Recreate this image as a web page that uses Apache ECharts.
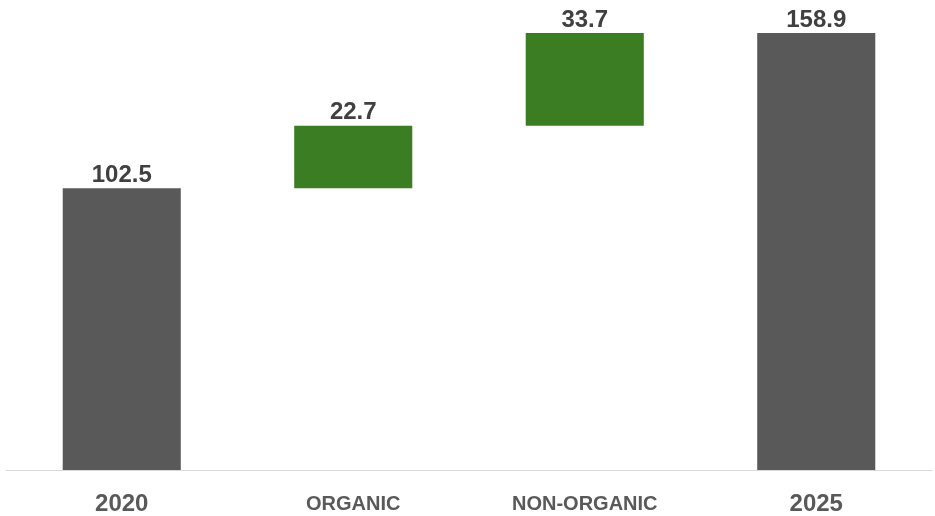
<!DOCTYPE html>
<html><head><meta charset="utf-8">
<script src="https://cdn.jsdelivr.net/npm/echarts@6/dist/echarts.min.js"></script>
<style>html,body{margin:0;padding:0;background:#fff}#c{width:935px;height:516px}</style>
</head><body><div id="c"></div>
<script>
const categories = ['2020', 'ORGANIC', 'NON-ORGANIC', '2025'];
const values = [102.5, 22.7, 33.7, 158.9];
const kinds = ['total', 'delta', 'delta', 'total'];
const valueLabels = ['102.5', '22.7', '33.7', '158.9'];

const colors = { total: '#595959', delta: '#3a7d22' };
let running = 0;
const baseData = [], barData = [];
values.forEach((v, i) => {
  if (kinds[i] === 'total') { baseData.push(0); running = v; }
  else { baseData.push(running); running += v; }
  barData.push({ value: v, itemStyle: { color: colors[kinds[i]] } });
});

const chart = echarts.init(document.getElementById('c'));
chart.setOption({
  animation: false,
  grid: { left: 6, right: 3, top: 30, bottom: 45 },
  xAxis: {
    type: 'category', data: categories,
    axisLine: { lineStyle: { color: '#d9d9d9', width: 1 } },
    axisTick: { show: false },
    axisLabel: {
      margin: 22,
      formatter: function (v) { return /^\d+$/.test(v) ? '{y|' + v + '}' : '{c|' + v + '}'; },
      rich: {
        y: { fontFamily: 'Liberation Sans', fontWeight: 'bold', fontSize: 24, color: '#595959' },
        c: { fontFamily: 'Liberation Sans', fontWeight: 'bold', fontSize: 20, color: '#595959', padding: [2, 0, 0, 0] }
      }
    }
  },
  yAxis: { type: 'value', min: 0, max: 160, show: false, splitLine: { show: false } },
  series: [
    { type: 'bar', stack: 'w', data: baseData, barWidth: '51%', itemStyle: { color: 'transparent' }, silent: true },
    { type: 'bar', stack: 'w', data: barData, barWidth: '51%',
      label: { show: true, position: 'top', distance: 1,
        formatter: p => valueLabels[p.dataIndex],
        fontFamily: 'Liberation Sans', fontWeight: 'bold', fontSize: 24, color: '#404040' } }
  ]
});
</script></body></html>
